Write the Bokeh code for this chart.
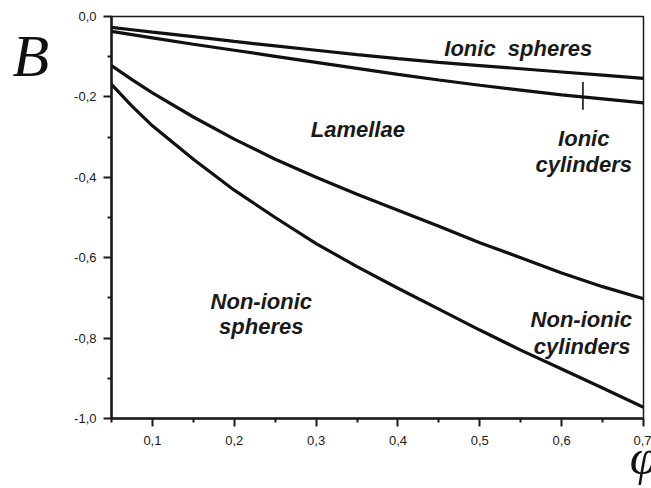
from bokeh.plotting import figure
from bokeh.models import Range1d, FixedTicker, CustomJSTickFormatter, Label, LinearAxis
from bokeh.embed import file_html
from bokeh.resources import INLINE

# --- data ---
phi = [0.05, 0.075, 0.10, 0.15, 0.20, 0.25, 0.30, 0.35, 0.40, 0.45, 0.50, 0.55, 0.60, 0.65, 0.70]
b_ionic_spheres = [-0.027, -0.033, -0.039, -0.050, -0.062, -0.073, -0.084, -0.095, -0.105, -0.114, -0.122, -0.130, -0.138, -0.146, -0.154]
b_ionic_cylinders = [-0.037, -0.045, -0.053, -0.069, -0.084, -0.099, -0.114, -0.129, -0.144, -0.158, -0.171, -0.183, -0.195, -0.205, -0.215]
b_lamellae = [-0.122, -0.157, -0.190, -0.250, -0.305, -0.355, -0.400, -0.442, -0.482, -0.522, -0.563, -0.600, -0.638, -0.672, -0.702]
b_nonionic = [-0.169, -0.223, -0.272, -0.355, -0.432, -0.500, -0.565, -0.622, -0.676, -0.728, -0.780, -0.830, -0.877, -0.924, -0.972]

marker_phi = [0.626]
marker_b0 = [-0.163]
marker_b1 = [-0.232]

x_major = [0.1, 0.2, 0.3, 0.4, 0.5, 0.6, 0.7]
x_minor = [0.05, 0.15, 0.25, 0.35, 0.45, 0.55, 0.65]
y_major = [0.0, -0.2, -0.4, -0.6, -0.8, -1.0]
y_minor = [-0.1, -0.3, -0.5, -0.7, -0.9]

region_labels = ["Ionic\u00a0 spheres", "Lamellae", "Ionic", "cylinders", "Non-ionic", "spheres", "Non-ionic", "cylinders"]
region_x = [0.547, 0.351, 0.627, 0.627, 0.233, 0.233, 0.624, 0.625]
region_y = [-0.080, -0.281, -0.304, -0.368, -0.709, -0.771, -0.754, -0.821]

p = figure(width=651, height=488, output_backend="svg", toolbar_location=None,
           x_range=Range1d(0.05, 0.7), y_range=Range1d(-1.0, 0.0),
           min_border_left=111, min_border_right=8, min_border_top=16, min_border_bottom=70)
p.background_fill_color = "white"
p.border_fill_color = "white"
p.grid.visible = False
p.outline_line_color = "#1a1a1a"
p.outline_line_width = 1.5

fmt = CustomJSTickFormatter(code="return tick.toFixed(1).replace('.', ',');")
for ax, maj, mnr in ((p.xaxis[0], x_major, x_minor), (p.yaxis[0], y_major, y_minor)):
    ax.ticker = FixedTicker(ticks=maj, minor_ticks=mnr)
    ax.formatter = fmt
    ax.axis_line_width = 2.5
    ax.axis_line_color = "#1a1a1a"
    ax.major_tick_line_width = 2
    ax.minor_tick_line_width = 2
    ax.major_tick_line_color = "#1a1a1a"
    ax.minor_tick_line_color = "#1a1a1a"
    ax.major_tick_in = 0
    ax.minor_tick_in = 0
    ax.major_tick_out = 8
    ax.minor_tick_out = 4
    ax.major_label_text_font = "Liberation Sans"
    ax.major_label_text_font_size = "13px"
    ax.major_label_text_color = "#1a1a1a"
p.xaxis.major_label_standoff = 9
p.yaxis.major_label_standoff = 7

# axis label B (left, horizontal, near top)
ya = p.yaxis[0]
ya.axis_label = "\nB"
ya.axis_label_text_font = "Liberation Serif"
ya.axis_label_text_font_style = "italic"
ya.axis_label_text_font_size = "60px"
ya.axis_label_text_color = "#111111"
ya.axis_label_orientation = "horizontal"
ya.axis_label_align = "end"
ya.axis_label_standoff = 22

# phi: label of a bare second axis below, aligned to the right end
phi_axis = LinearAxis(bounds=(0.05, 0.674), ticker=FixedTicker(ticks=[]),
                      axis_line_color=None, major_tick_line_color=None, minor_tick_line_color=None,
                      major_tick_out=0, minor_tick_out=0, major_tick_in=0, minor_tick_in=0,
                      major_label_standoff=0, major_label_text_font_size="0px")
phi_axis.axis_label = "\u03c6"
phi_axis.axis_label_text_font = "Liberation Serif"
phi_axis.axis_label_text_font_style = "italic"
phi_axis.axis_label_text_font_size = "50px"
phi_axis.axis_label_text_color = "#111111"
phi_axis.axis_label_align = "end"
phi_axis.axis_label_standoff = -19
p.add_layout(phi_axis, "below")

for ys in (b_ionic_spheres, b_ionic_cylinders, b_lamellae, b_nonionic):
    p.line(phi, ys, line_color="#111111", line_width=3.2)

p.segment(x0=marker_phi, y0=marker_b0, x1=marker_phi, y1=marker_b1, line_color="#111111", line_width=1.6)

for t, x, y in zip(region_labels, region_x, region_y):
    p.add_layout(Label(x=x, y=y, text=t, text_font="Liberation Sans", text_font_style="bold italic",
                       text_font_size="22px", text_color="#1a1a1a", text_align="center",
                       text_baseline="alphabetic"))

open("out.html", "w").write(file_html(p, INLINE))
